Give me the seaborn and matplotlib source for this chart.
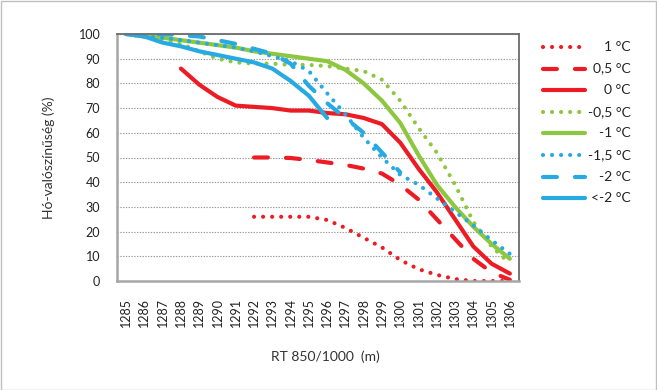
import numpy as np
import pandas as pd
import matplotlib
matplotlib.use("Agg")
import matplotlib.pyplot as plt
import seaborn as sns
from matplotlib.lines import Line2D
from matplotlib.patches import Rectangle

nan = np.nan
thickness = list(range(1285, 1307))
tick_labels = [str(t) for t in thickness]

t_p1_0 = [nan]*7 + [26, 26, 26, 26, 24.7, 21.5, 17.5, 13.6, 8.5, 4.8, 2.5, 0.8, 0, 0, 0]
t_p0_5 = [nan]*7 + [50, 50, 49.8, 49, 48, 47, 45.5, 43.5, 39, 33, 25, 17, 9, 3.5, 0.5]
t_0_0 = [nan]*3 + [86, 79.5, 74.5, 71, 70.5, 70, 69, 69, 68, 67.5, 66, 63.5, 56, 45.5, 36, 25, 14, 7, 3]
t_m0_5 = [100, 99, 98, 96, 93, 90, 88.5, 88, 88, 87.5, 87.5, 87, 86, 85, 81.5, 73, 62, 52, 39, 24, 14, 7]
t_m1_0 = [100, 99, 98.5, 97.5, 96.5, 95.5, 94.5, 93, 92, 91, 90, 89, 85.5, 80, 73, 64, 51, 39, 30, 22, 15, 9]
t_m1_5 = [100, 99, 98.5, 97.5, 96.5, 95.5, 94.5, 93, 91, 89, 85, 76, 67.5, 58, 50, 43, 39, 33.5, 28, 22.5, 16.5, 11]
t_m2_0 = [100, 100, 100, 99.5, 99, 97.5, 96, 94, 92, 88, 79, 72, 66, 60, 52, 44] + [nan]*6
t_lt_m2 = [100, 99, 96.5, 95, 93, 91.5, 90, 88.5, 86, 81, 75, 66] + [nan]*10

labels = ['1 °C', '0,5 °C', '0 °C', '-0,5 °C', '-1 °C', '-1,5 °C', '-2 °C', '<-2 °C']
series = [t_p1_0, t_p0_5, t_0_0, t_m0_5, t_m1_0, t_m1_5, t_m2_0, t_lt_m2]

RED, GREEN, BLUE = '#ED1C24', '#8DC63F', '#27AAE1'
colors = [RED, RED, RED, GREEN, GREEN, BLUE, BLUE, BLUE]
DOT = (0, (0.01, 6.5))
DASH = (0, (10, 13))
styles = [DOT, DASH, '-', DOT, '-', DOT, DASH, '-']
widths = [3.0, 3.0, 3.0, 3.0, 3.0, 3.0, 3.0, 3.0]

sns.set_style("white")
plt.rcParams['font.family'] = ['Lato', 'DejaVu Sans']
plt.rcParams['lines.scale_dashes'] = False

fig = plt.figure(figsize=(6.57, 3.90), dpi=100)
ax = fig.add_axes([117/657, 1-281/390, (519-117)/657, (281-34)/390])

for vals, lab, c, ls, lw in zip(series, labels, colors, styles, widths):
    df = pd.DataFrame({'x': thickness, 'y': vals}).dropna()
    sns.lineplot(data=df, x='x', y='y', ax=ax, color=c, linestyle=ls, linewidth=lw,
                 dash_capstyle='round', solid_capstyle='round', legend=False)

ax.set_xlim(1284.5, 1306.5)
ax.set_ylim(0, 100)
ax.set_xticks(thickness)
ax.set_xticklabels(tick_labels, rotation=90, fontsize=9, color='#222222')
ax.set_xticks(np.arange(1284.5, 1307, 1), minor=True)
ax.tick_params(axis='x', which='major', length=0, pad=12)
ax.tick_params(axis='x', which='minor', length=4, width=1, color='#A6A6A6', direction='out')
ax.set_yticks(range(0, 101, 10))
ax.tick_params(axis='y', which='major', length=4, width=1, color='#A6A6A6', direction='out',
               labelsize=9, labelcolor='#222222', pad=8)
ax.yaxis.grid(True, color='#9A9A9A', linestyle=(0, (1, 1)), linewidth=0.8)
ax.xaxis.grid(False)
ax.set_axisbelow(True)

for s in ['top', 'right']:
    ax.spines[s].set_color('#6B6B6B')
    ax.spines[s].set_linewidth(1.3)
for s in ['left', 'bottom']:
    ax.spines[s].set_color('#A6A6A6')
    ax.spines[s].set_linewidth(1.8)

ax.set_xlabel('RT 850/1000  (m)', fontsize=10, color='#333333')
ax.xaxis.set_label_coords((325-117)/402, (281-350)/247)
ax.set_ylabel('Hó-valószínűség (%)', fontsize=10, color='#333333')
ax.yaxis.set_label_coords((55-117)/402, 0.5)

# legend drawn at right side
for i, (lab, c, ls, lw) in enumerate(zip(labels, colors, styles, widths)):
    yf = 1 - (47 + 21.6*i)/390
    ln = Line2D([543/657, 585/657], [yf, yf], transform=fig.transFigure, color=c,
                linestyle=ls, linewidth=lw, dash_capstyle='round', solid_capstyle='round')
    fig.add_artist(ln)
    fig.text(631/657, yf, lab, ha='right', va='center', fontsize=10, color='#222222')

fig.add_artist(Rectangle((0.5/657, 0.5/390), 1-1.5/657, 1-1.5/390, transform=fig.transFigure,
                         fill=False, edgecolor='#BFBFBF', linewidth=1))

fig.savefig('out.png', dpi=100)
